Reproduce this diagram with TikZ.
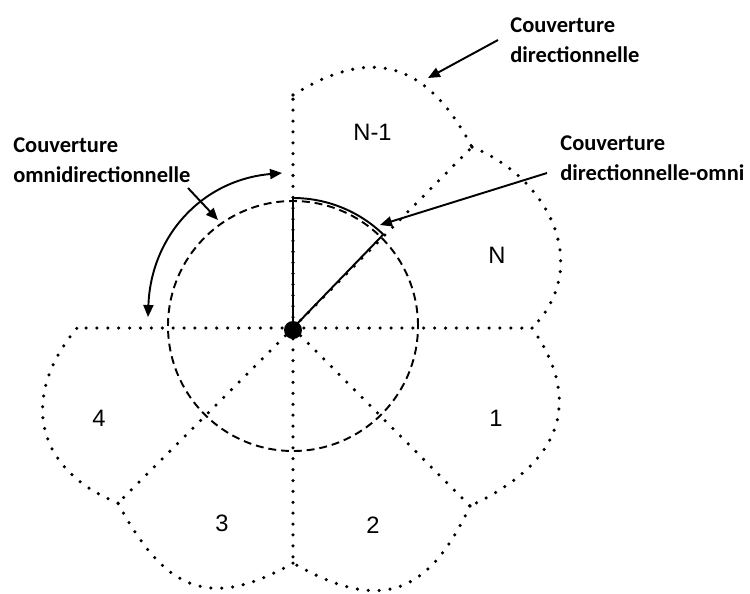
\documentclass[tikz,border=0pt]{standalone}
\usepackage{fontspec}
\setmainfont{Liberation Sans}
\newfontfamily\calibri{Carlito}
\usetikzlibrary{arrows.meta}
\tikzset{
  zone/.style={draw=black,line width=2pt,line cap=round,dash pattern=on 0pt off 6.2pt},
  omni/.style={draw=black,line width=1.1pt,dash pattern=on 4.5pt off 2.8pt},
  sector/.style={draw=black,line width=1.1pt},
  pointer/.style={draw=black,line width=1.1pt,-{Triangle[length=6.8pt,width=5.7pt]}},
  twoway/.style={draw=black,line width=1.1pt,{Triangle[length=6.8pt,width=5.7pt]}-{Triangle[length=6.8pt,width=5.7pt]}},
  caption/.style={font=\calibri\bfseries\fontsize{12.8}{17}\selectfont,align=left,inner sep=0pt},
  num/.style={font=\fontsize{13.5}{16}\selectfont,inner sep=0pt},
}

\begin{document}
\begin{tikzpicture}[x=0.02cm,y=0.02cm]
\useasboundingbox (-293,-265) rectangle (457,328);
\coordinate (O) at (0,0);
\coordinate (a90) at (0,233);
\coordinate (a45) at (179,181);
\coordinate (a0) at (239,0);
\coordinate (am45) at (177,-178);
\coordinate (am90) at (0,-235);
\coordinate (am135) at (-175,-175);
\coordinate (a180) at (-216,0);
% sector borders
\draw[zone] (O) -- (a90);
\draw[zone] (O) -- (a45);
\draw[zone] (O) -- (a0);
\draw[zone] (O) -- (am45);
\draw[zone] (O) -- (am90);
\draw[zone] (O) -- (am135);
\draw[zone] (O) -- (a180);
% lobes
\draw[zone] (a90) to[out=32,in=118,looseness=1.3] (a45);
\draw[zone] (a45) to[out=-22,in=45,looseness=1.14] (a0);
\draw[zone] (a0) to[out=-55,in=25,looseness=1.29] (am45);
\draw[zone] (am45) to[out=-115,in=-30,looseness=1.37] (am90);
\draw[zone] (am90) to[out=-150,in=-62,looseness=1.35] (am135);
\draw[zone] (am135) to[out=158,in=-130,looseness=1.28] (a180);
% omni range
\draw[omni] (0,2) circle[radius=125];
\draw[sector] (O) -- (90:130) arc[start angle=90,end angle=46,radius=130] -- cycle;
\fill (0,-2) circle[radius=9];
% sector numbers
\node[num] (nNm) at (79.5,196) {N-1};
\node[num] (nN) at (204,73) {N};
\node[num] (n1) at (203,-90) {1};
\node[num] (n2) at (80,-197) {2};
\node[num] (n3) at (-71,-195) {3};
\node[num] (n4) at (-194,-90) {4};
% captions (base = last line)
\node[caption,anchor=base west] (dir) at (217,266) {Couverture\\directionnelle};
\node[caption,anchor=base west] (diromni) at (267,148) {Couverture\\directionnelle-omni};
\node[caption,anchor=base west] (omnicap) at (-280,146) {Couverture\\omnidirectionnelle};
% pointers
\coordinate (dirtail) at (205,288);
\coordinate (dirtip) at (135,250);
\coordinate (diromnitail) at (254,155);
\coordinate (diromnitip) at (87,103);
\coordinate (omnitail) at (-105,140);
\coordinate (omnitip) at (-75,108);
\coordinate (sweeplow) at (-145,11);
\coordinate (sweephigh) at (-11,155);
\draw[pointer] (dirtail) -- (dirtip);
\draw[pointer] (diromnitail) -- (diromnitip);
\draw[pointer] (omnitail) -- (omnitip);
\draw[twoway] (sweeplow) to[out=88,in=185,looseness=1.05] (sweephigh);
\end{tikzpicture}
\end{document}
